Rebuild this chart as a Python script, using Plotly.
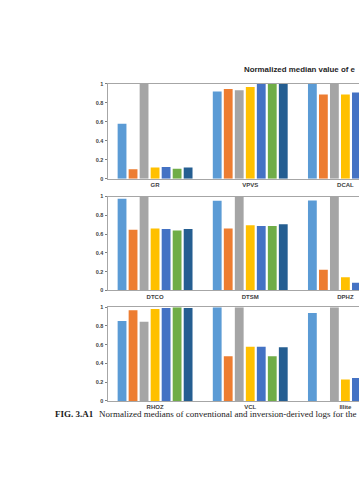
import plotly.graph_objects as go

# ---- data ----
row1_categories = ["GR", "VPVS", "DCAL"]
row2_categories = ["DTCO", "DTSM", "DPHZ"]
row3_categories = ["RHOZ", "VCL", "Illite"]

# one list per log: values of the 7 series (None = outside the visible crop)
GR = [0.58, 0.10, 1.00, 0.12, 0.125, 0.105, 0.12]
VPVS = [0.92, 0.948, 0.934, 0.969, 1.00, 1.00, 1.00]
DCAL = [1.00, 0.889, 1.00, 0.89, 0.91, None, None]
DTCO = [0.976, 0.645, 1.00, 0.66, 0.653, 0.639, 0.653]
DTSM = [0.955, 0.66, 1.00, 0.695, 0.687, 0.687, 0.705]
DPHZ = [0.958, 0.221, 1.00, 0.14, 0.08, None, None]
RHOZ = [0.853, 0.968, 0.845, 0.979, 0.99, 1.00, 0.99]
VCL = [1.00, 0.477, 1.00, 0.579, 0.579, 0.477, 0.572]
Illite = [0.937, 0.0, 1.00, 0.23, 0.245, None, None]

series_colors = ["#5B9BD5", "#ED7D31", "#A5A5A5", "#FFC000", "#4472C4", "#70AD47", "#255E91"]
y_tick_vals = [0, 0.2, 0.4, 0.6, 0.8, 1]
y_tick_text = ["0", "0.2", "0.4", "0.6", "0.8", "1"]

title_text = "Normalized median value of e"
caption_label = "FIG. 3.A1"
caption_text = "Normalized medians of conventional and inversion-derived logs for the"

rows = [
    (row1_categories, [GR, VPVS, DCAL]),
    (row2_categories, [DTCO, DTSM, DPHZ]),
    (row3_categories, [RHOZ, VCL, Illite]),
]

W, H = 359, 480
# pixel positions of the plot areas
x_left_px = 107.5
row_px = [(82, 178), (196, 291), (308, 403)]

fig = go.Figure()

for r, (cats, logs) in enumerate(rows):
    xa = "x" if r == 0 else f"x{r+1}"
    ya = "y" if r == 0 else f"y{r+1}"
    for s in range(7):
        fig.add_trace(go.Bar(
            x=cats,
            y=[log[s] for log in logs],
            marker=dict(color=series_colors[s], line=dict(width=0)),
            xaxis=xa, yaxis=ya,
            offsetgroup=str(s),
            showlegend=False,
            hoverinfo="x+y",
        ))

layout = dict(
    width=W, height=H,
    margin=dict(l=0, r=0, t=0, b=0),
    paper_bgcolor="white", plot_bgcolor="white",
    barmode="group", bargap=0.19, bargroupgap=0.2,
    showlegend=False,
)

x_right_cat = (W - 155.0) / 95.2
for r, (top, bot) in enumerate(row_px):
    xk = "xaxis" if r == 0 else f"xaxis{r+1}"
    yk = "yaxis" if r == 0 else f"yaxis{r+1}"
    ya = "y" if r == 0 else f"y{r+1}"
    xa = "x" if r == 0 else f"x{r+1}"
    layout[xk] = dict(
        domain=[x_left_px / W, 1.0],
        anchor=ya,
        range=[-0.5, x_right_cat],
        showline=True, mirror=True, linecolor="#A6A6A6", linewidth=1,
        ticks="", showgrid=False, zeroline=False, fixedrange=True,
        tickfont=dict(family="Liberation Sans", size=6, color="#404040", weight="bold"),
    )
    layout[yk] = dict(
        domain=[1 - bot / H, 1 - top / H],
        anchor=xa,
        range=[0, 1],
        tickvals=y_tick_vals, ticktext=y_tick_text,
        showline=True, linecolor="#A6A6A6", linewidth=1,
        ticks="outside", ticklen=2, tickcolor="#7F7F7F",
        showgrid=False, zeroline=False, fixedrange=True,
        tickfont=dict(family="Liberation Sans", size=5.5, color="#404040", weight="bold"),
    )

fig.update_layout(**layout)

fig.add_annotation(
    x=241.5 / W, y=1 - 67.5 / H, xref="paper", yref="paper",
    xanchor="left", yanchor="middle", showarrow=False,
    text=f"<b>{title_text}</b>",
    font=dict(family="Liberation Sans", size=7.9, color="#1f1f1f"),
)
fig.add_annotation(
    x=53 / W, y=1 - 416 / H, xref="paper", yref="paper",
    xanchor="left", yanchor="middle", showarrow=False,
    text=f"<b>{caption_label}</b>",
    font=dict(family="Liberation Serif", size=9, color="#1a1a1a"),
)
fig.add_annotation(
    x=97 / W, y=1 - 416 / H, xref="paper", yref="paper",
    xanchor="left", yanchor="middle", showarrow=False,
    text=caption_text,
    font=dict(family="Liberation Serif", size=9, color="#1a1a1a"),
)

fig.write_html(
    "out.html",
    config={"displayModeBar": False},
    post_script="document.body.style.margin='0';document.body.style.overflow='hidden';",
)
